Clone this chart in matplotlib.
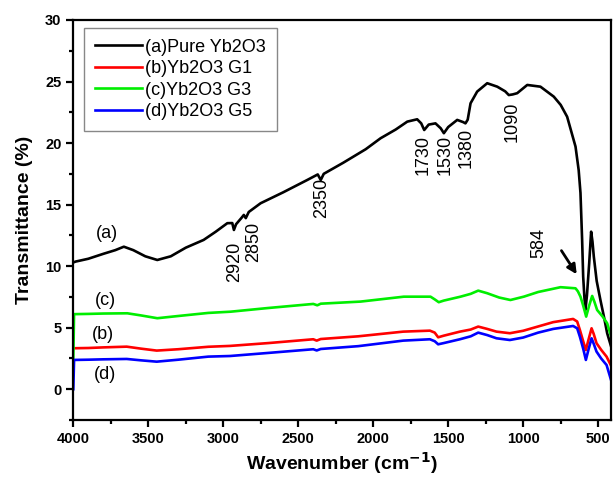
import numpy as np
from matplotlib import pyplot as plt

# FTIR spectra, wavenumber (cm-1) vs transmittance (%)
wn_a = [4000, 3985, 3900, 3800, 3720, 3663, 3600, 3520, 3440, 3350, 3250, 3131, 3050, 2973,
        2940, 2929, 2915, 2880, 2863, 2850, 2830, 2751, 2600, 2440, 2370, 2350, 2330, 2200,
        2050, 1951, 1850, 1773, 1707, 1680, 1660, 1630, 1585, 1550, 1529, 1500, 1440, 1400,
        1385, 1370, 1351, 1307, 1240, 1173, 1120, 1096, 1070, 1040, 973, 885, 796, 750,
        707, 651, 630, 618, 607, 600, 592, 585, 575, 560, 547, 538, 529, 510, 485, 460,
        440, 407]
T_a = [10.3, 10.37, 10.6, 11.0, 11.3, 11.58, 11.3, 10.8, 10.5, 10.8, 11.5, 12.13, 12.8, 13.49,
       13.5, 12.94, 13.4, 13.9, 14.16, 13.9, 14.4, 15.11, 16.0, 17.0, 17.45, 17.0, 17.5, 18.4,
       19.5, 20.39, 21.1, 21.74, 21.93, 21.6, 21.06, 21.5, 21.6, 21.2, 20.8, 21.3, 21.88, 21.7,
       21.6, 21.9, 23.23, 24.18, 24.86, 24.58, 24.2, 23.9, 23.95, 24.05, 24.72, 24.58, 23.77, 23.1,
       22.14, 19.71, 17.8, 15.95, 12.13, 9.15, 7.5, 6.44, 7.6, 10.2, 12.8, 12.0, 10.77, 8.8, 7.25, 5.8,
       4.55, 3.19]

wn_b = [4000, 3900, 3800, 3644, 3550, 3444, 3300, 3100, 2955, 2700, 2400, 2377, 2350, 2100,
        1800, 1622, 1590, 1567, 1530, 1422, 1350, 1300, 1240, 1178, 1089, 1000, 900, 800,
        667, 640, 622, 600, 582, 565, 544, 530, 511, 480, 444, 411]
T_b = [3.33, 3.35, 3.4, 3.46, 3.3, 3.14, 3.25, 3.45, 3.52, 3.75, 4.06, 3.95, 4.08, 4.3,
       4.68, 4.76, 4.6, 4.22, 4.35, 4.68, 4.85, 5.09, 4.9, 4.68, 4.55, 4.75, 5.1, 5.45,
       5.71, 5.5, 4.82, 3.9, 3.19, 4.0, 4.95, 4.5, 3.74, 3.2, 2.65, 1.84]

wn_c = [4000, 3995, 3900, 3800, 3640, 3550, 3440, 3300, 3100, 2951, 2700, 2400, 2373, 2350,
        2085, 1796, 1618, 1590, 1563, 1530, 1418, 1350, 1300, 1240, 1160, 1085, 996, 900,
        751, 651, 635, 618, 600, 580, 560, 540, 525, 507, 470, 440, 407]
T_c = [2.45, 6.1, 6.12, 6.15, 6.17, 6.0, 5.77, 5.95, 6.2, 6.3, 6.6, 6.93, 6.82, 6.95,
       7.12, 7.52, 7.52, 7.3, 7.07, 7.2, 7.52, 7.75, 8.01, 7.8, 7.45, 7.25, 7.52, 7.9,
       8.29, 8.2, 7.95, 7.52, 6.8, 5.9, 6.8, 7.58, 7.1, 6.44, 5.9, 5.36, 4.0]

wn_d = [4000, 3995, 3900, 3800, 3644, 3550, 3444, 3300, 3100, 2955, 2700, 2400, 2377, 2350,
        2100, 1800, 1622, 1590, 1567, 1530, 1422, 1350, 1300, 1240, 1178, 1089, 1000, 900,
        800, 667, 640, 622, 600, 582, 565, 544, 530, 511, 480, 444, 411]
T_d = [0.0, 2.38, 2.4, 2.43, 2.46, 2.35, 2.24, 2.4, 2.65, 2.7, 2.95, 3.25, 3.15, 3.27,
       3.5, 3.95, 4.06, 3.9, 3.65, 3.75, 4.06, 4.3, 4.6, 4.4, 4.14, 4.0, 4.2, 4.6,
       4.9, 5.14, 4.95, 4.27, 3.3, 2.38, 3.2, 4.14, 3.7, 3.06, 2.5, 1.97, 0.62]

labels = ['(a)Pure Yb2O3', '(b)Yb2O3 G1', '(c)Yb2O3 G3', '(d)Yb2O3 G5']
colors = ['black', '#ff0000', '#00ee00', '#0000ff']

# band positions and where their labels hang (x, top of text)
peak_names = ['2920', '2850', '2350', '1730', '1530', '1380', '1090']
peak_x = [2922, 2800, 2344, 1667, 1522, 1382, 1077]
peak_top = [11.99, 13.6, 17.16, 20.66, 20.66, 21.23, 23.36]

curve_tags = ['(a)', '(c)', '(b)', '(d)']
tag_x = [3777, 3789, 3800, 3789]
tag_y = [12.67, 7.2, 4.41, 1.22]

plt.rcParams['font.family'] = ['Liberation Sans', 'DejaVu Sans']

fig = plt.figure(figsize=(6.13, 4.82), dpi=100)
ax = fig.add_axes([0.1196, 0.1286, 0.877, 0.83])

series = [(wn_a, T_a), (wn_b, T_b), (wn_c, T_c), (wn_d, T_d)]
for (w, t), lab, col in zip(series, labels, colors):
    ax.plot(w, t, color=col, lw=1.9, label=lab)

ax.set_xlim(4000, 415)
ax.set_ylim(-2.5, 30)
ax.set_xticks(np.arange(4000, 499, -500))
ax.set_xticks(np.arange(3750, 499, -500), minor=True)
ax.set_yticks(np.arange(0, 31, 5))
ax.set_yticks(np.arange(-2.5, 30, 5), minor=True)

for s in ax.spines.values():
    s.set_linewidth(1.6)
ax.tick_params(which='major', direction='out', length=5, width=1.6, labelsize=10.5)
ax.tick_params(which='minor', direction='out', length=3, width=1.6)
for lbl in ax.get_xticklabels() + ax.get_yticklabels():
    lbl.set_fontweight('bold')

ax.set_xlabel('Wavenumber (cm$^{\\mathbf{-1}}$)', fontsize=14, fontweight='bold', labelpad=3)
ax.set_ylabel('Transmittance (%)', fontsize=14, fontweight='bold', labelpad=9)

for name, px, pt in zip(peak_names, peak_x, peak_top):
    ax.text(px, pt, name, rotation=90, ha='center', va='top', fontsize=13)

ax.text(895, 13.1, '584', rotation=90, ha='center', va='top', fontsize=13)
ax.annotate('', xy=(633, 9.15), xytext=(755, 11.45),
            arrowprops=dict(arrowstyle='-|>', color='black', lw=2, mutation_scale=14))

for tag, tx, ty in zip(curve_tags, tag_x, tag_y):
    ax.text(tx, ty, tag, ha='center', va='center', fontsize=13)

leg = ax.legend(loc='upper left', fontsize=13, handlelength=2.6, handletextpad=0.2,
                labelspacing=0.25, borderpad=0.6, fancybox=False, framealpha=1,
                bbox_to_anchor=(0.02, 0.98), borderaxespad=0)
leg.get_frame().set_edgecolor('#888888')
leg.get_frame().set_linewidth(1.0)

plt.savefig('out.png', dpi=100)
